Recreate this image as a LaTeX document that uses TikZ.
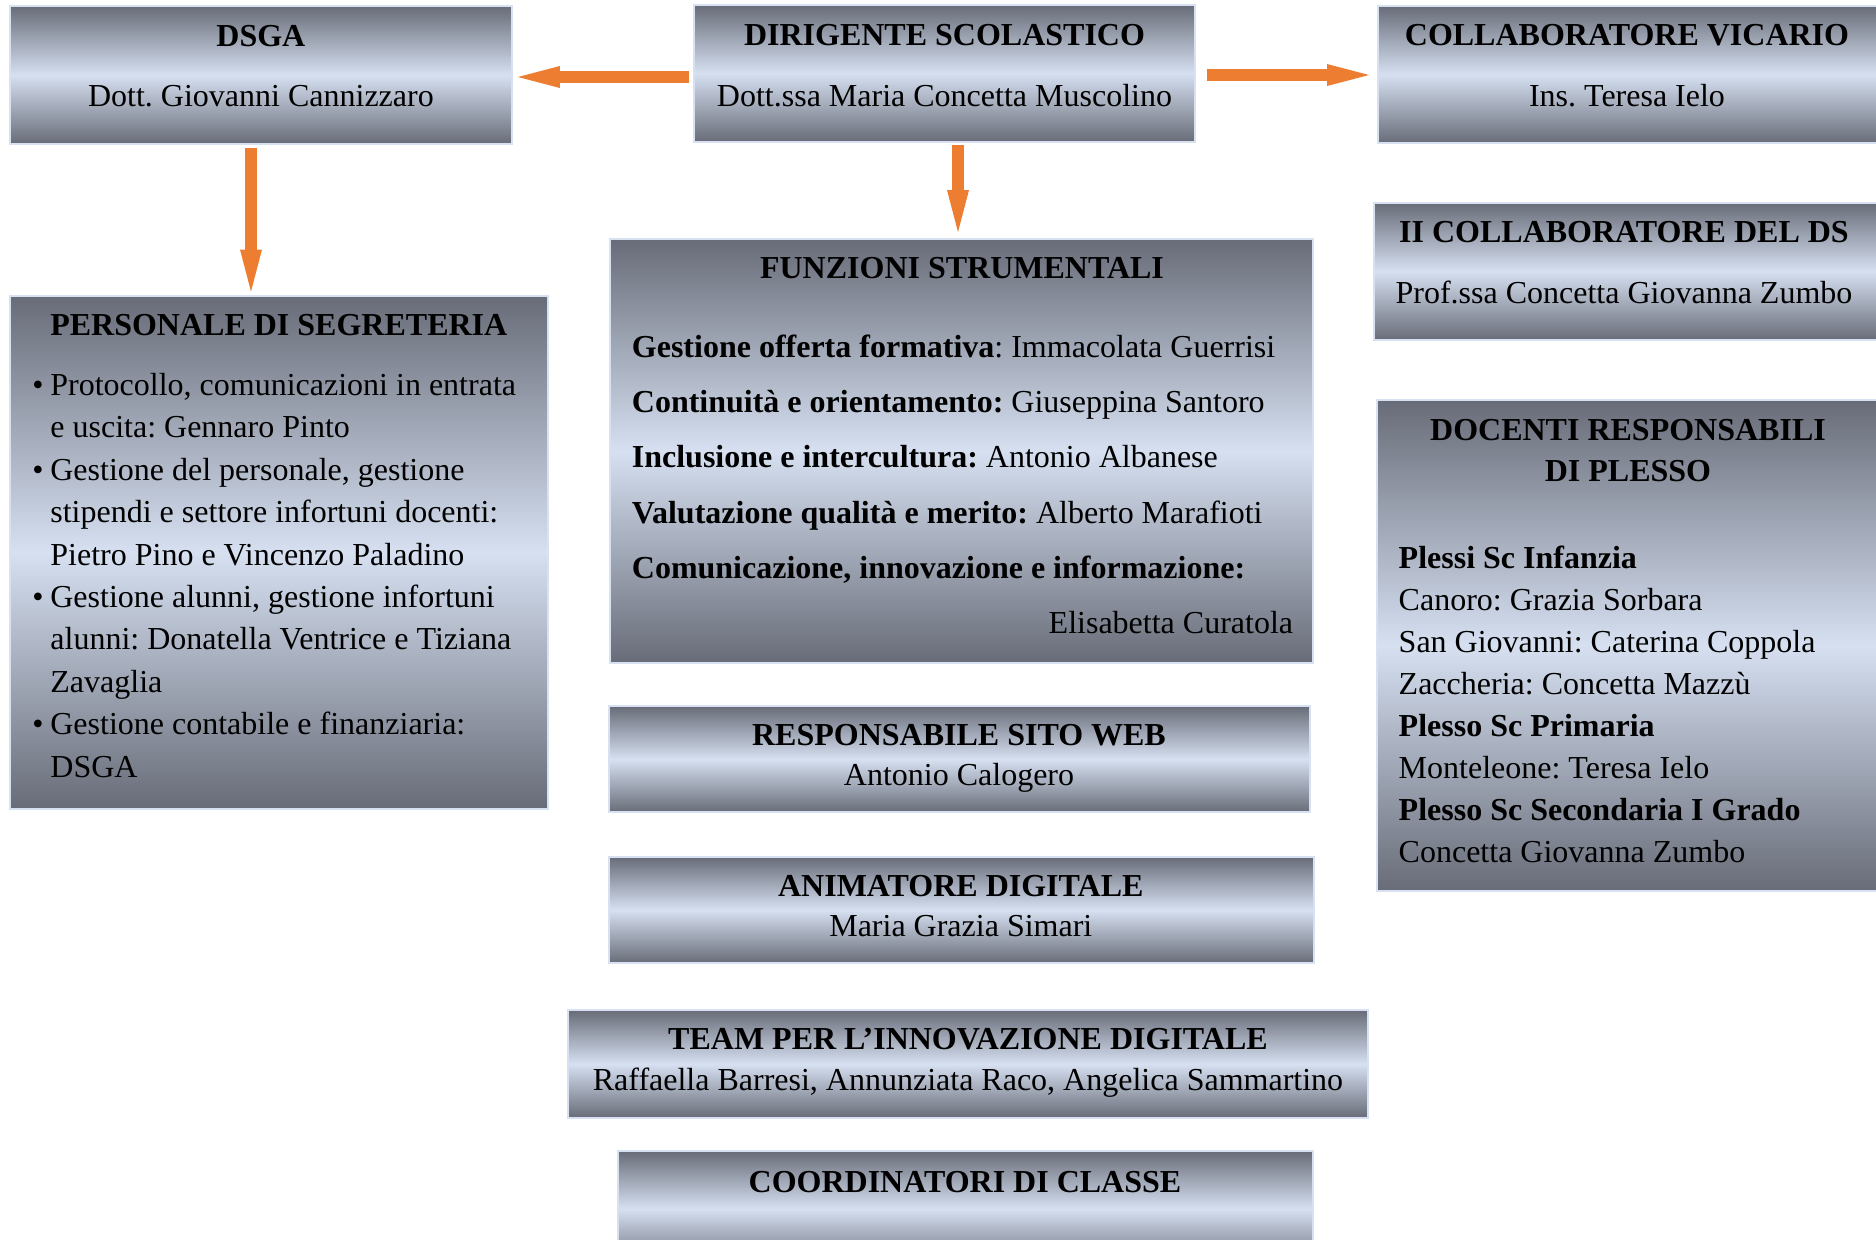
\documentclass[tikz,border=0pt]{standalone}
\usepackage{fontspec}
\setmainfont{Liberation Serif}
\frenchspacing
\usetikzlibrary{arrows.meta}
\definecolor{gdark}{RGB}{104,108,120}
\definecolor{glight}{RGB}{214,224,241}
\definecolor{gedge}{RGB}{216,225,242}
\definecolor{arrorange}{RGB}{237,125,49}
\tikzset{
  box/.style={rectangle, draw=gedge, line width=1pt, inner sep=0pt,
    top color=gdark, bottom color=gdark, middle color=glight},
  txt/.style={inner sep=0pt, anchor=base, font=\fontsize{16pt}{19pt}\selectfont},
  ttl/.style={txt, font=\fontsize{16pt}{19pt}\selectfont\bfseries},
  lft/.style={txt, anchor=base west},
  arr/.style={draw=arrorange, line width=6pt, -{Triangle[length=21pt,width=11pt,line width=0pt]}}
}
\begin{document}
\begin{tikzpicture}[x=5pt,y=5pt]
\useasboundingbox (0,0) rectangle (187.6,-123.9);
\clip (0,0) rectangle (187.6,-123.9);
% top row
\node (dsga) [box, minimum width=251pt, minimum height=69pt] at (26.09,-7.5) {};
\node (dsgaT) [ttl] at (26.09,-4.64) {DSGA};
\node (dsgaN) [txt] at (26.09,-10.62) {Dott. Giovanni Cannizzaro};
\node (ds) [box, minimum width=250.5pt, minimum height=68.5pt] at (94.45,-7.33) {};
\node (dsT) [ttl] at (94.45,-4.52) {DIRIGENTE SCOLASTICO};
\node (dsN) [txt] at (94.45,-10.62) {Dott.ssa Maria Concetta Muscolino};
\node (vicario) [box, minimum width=250pt, minimum height=68.8pt] at (162.8,-7.45) {};
\node (vicarioT) [ttl] at (162.7,-4.52) {COLLABORATORE VICARIO};
\node (vicarioN) [txt] at (162.7,-10.62) {Ins. Teresa Ielo};
% right column
\node (collab) [box, minimum width=252pt, minimum height=68.7pt] at (162.6,-27.13) {};
\node (collabT) [ttl] at (162.4,-24.26) {II COLLABORATORE DEL DS};
\node (collabN) [txt] at (162.4,-30.36) {Prof.ssa Concetta Giovanna Zumbo};
\node (docenti) [box, minimum width=250.5pt, minimum height=245.5pt] at (162.75,-64.55) {};
\node (docentiT1) [ttl] at (162.8,-44.0) {DOCENTI RESPONSABILI};
\node (docentiT2) [ttl] at (162.8,-48.17) {DI PLESSO};
\node (docenti1) [lft, font=\fontsize{16pt}{19pt}\selectfont\bfseries] at (139.83,-56.83) {Plessi Sc Infanzia};
\node (docenti2) [lft] at (139.83,-61.03) {Canoro: Grazia Sorbara};
\node (docenti3) [lft] at (139.83,-65.23) {San Giovanni: Caterina Coppola};
\node (docenti4) [lft] at (139.83,-69.43) {Zaccheria: Concetta Mazzù};
\node (docenti5) [lft, font=\fontsize{16pt}{19pt}\selectfont\bfseries] at (139.83,-73.63) {Plesso Sc Primaria};
\node (docenti6) [lft] at (139.83,-77.83) {Monteleone: Teresa Ielo};
\node (docenti7) [lft, font=\fontsize{16pt}{19pt}\selectfont\bfseries] at (139.83,-82.03) {Plesso Sc Secondaria I Grado};
\node (docenti8) [lft] at (139.83,-86.23) {Concetta Giovanna Zumbo};
% left column
\node (segreteria) [box, minimum width=268.75pt, minimum height=256.75pt] at (27.88,-55.23) {};
\node (segreteriaT) [ttl] at (27.88,-33.5) {PERSONALE DI SEGRETERIA};
\node (segr1) [lft] at (3.2,-39.55) {\makebox[9pt][l]{\textbullet}Protocollo, comunicazioni in entrata};
\node (segr2) [lft] at (5.0,-43.79) {e uscita: Gennaro Pinto};
\node (segr3) [lft] at (3.2,-48.03) {\makebox[9pt][l]{\textbullet}Gestione del personale, gestione};
\node (segr4) [lft] at (5.0,-52.27) {stipendi e settore infortuni docenti:};
\node (segr5) [lft] at (5.0,-56.51) {Pietro Pino e Vincenzo Paladino};
\node (segr6) [lft] at (3.2,-60.75) {\makebox[9pt][l]{\textbullet}Gestione alunni, gestione infortuni};
\node (segr7) [lft] at (5.0,-64.99) {alunni: Donatella Ventrice e Tiziana};
\node (segr8) [lft] at (5.0,-69.23) {Zavaglia};
\node (segr9) [lft] at (3.2,-73.47) {\makebox[9pt][l]{\textbullet}Gestione contabile e finanziaria:};
\node (segr10) [lft] at (5.0,-77.71) {DSGA};
% centre column
\node (funzioni) [box, minimum width=351.5pt, minimum height=212pt] at (96.15,-45.1) {};
\node (funzioniT) [ttl] at (96.2,-27.8) {FUNZIONI STRUMENTALI};
\node (funz1) [lft] at (63.15,-35.7) {\textbf{Gestione offerta formativa}: Immacolata Guerrisi};
\node (funz2) [lft] at (63.15,-41.2) {\textbf{Continuità e orientamento:} Giuseppina Santoro};
\node (funz3) [lft] at (63.15,-46.7) {\textbf{Inclusione e intercultura:} Antonio Albanese};
\node (funz4) [lft] at (63.15,-52.3) {\textbf{Valutazione qualità e merito:} Alberto Marafioti};
\node (funz5) [lft] at (63.15,-57.8) {\textbf{Comunicazione, innovazione e informazione:}};
\node (funz6) [txt, anchor=base east] at (129.35,-63.3) {Elisabetta Curatola};
\node (sitoweb) [box, minimum width=350.5pt, minimum height=53.2pt] at (95.95,-75.92) {};
\node (sitowebT) [ttl] at (95.9,-74.5) {RESPONSABILE SITO WEB};
\node (sitowebN) [txt] at (95.9,-78.5) {Antonio Calogero};
\node (animatore) [box, minimum width=352.3pt, minimum height=53.2pt] at (96.13,-90.99) {};
\node (animatoreT) [ttl] at (96.08,-89.67) {ANIMATORE DIGITALE};
\node (animatoreN) [txt] at (96.08,-93.6) {Maria Grazia Simari};
\node (team) [box, minimum width=399.6pt, minimum height=53.8pt] at (96.79,-106.4) {};
\node (teamT) [ttl] at (96.8,-104.95) {TEAM PER L’INNOVAZIONE DIGITALE};
\node (teamN) [txt] at (96.8,-109.0) {Raffaella Barresi, Annunziata Raco, Angelica Sammartino};
\node (coord) [box, minimum width=347.5pt, minimum height=58pt] at (96.5,-120.9) {};
\node (coordT) [ttl] at (96.5,-119.2) {COORDINATORI DI CLASSE};
% arrows
\draw [arr, shorten <=2pt, shorten >=2.5pt] ([yshift=-1.85pt]ds.west) -- ([yshift=-1.85pt]ds.west -| dsga.east);
\draw [arr, shorten <=5.3pt, shorten >=4pt] ([yshift=-0.85pt]ds.east) -- ([yshift=-0.85pt]ds.east -| vicario.west);
\draw [arr, shorten <=1.1pt, shorten >=3pt] ([xshift=6.75pt]ds.south) -- ([xshift=6.75pt]ds.south |- funzioni.north);
\draw [arr, shorten <=1.5pt, shorten >=1.5pt] ([xshift=-4.95pt]dsga.south) -- ([xshift=-4.95pt]dsga.south |- segreteria.north);
\end{tikzpicture}
\end{document}
